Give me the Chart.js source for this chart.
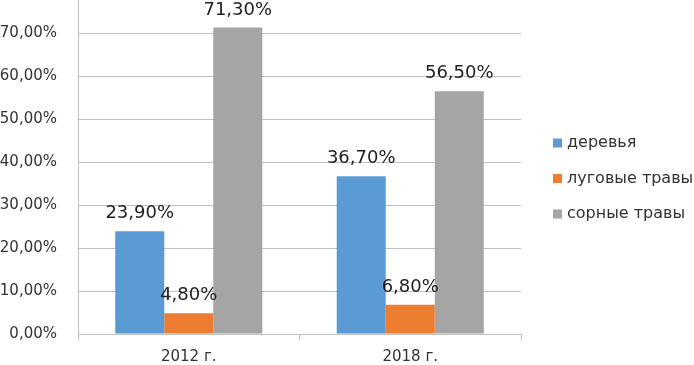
<!DOCTYPE html>
<html>
<head>
<meta charset="utf-8">
<script src="https://cdn.jsdelivr.net/npm/chart.js@4/dist/chart.umd.min.js"></script>
<style>
  html, body { margin: 0; padding: 0; background: #fff; }
  #wrap { width: 694px; height: 365px; }
</style>
</head>
<body>
<div id="wrap"><canvas id="grafica"></canvas></div>
<script>
const categorias = ["2012 г.", "2018 г."];
const series = ["деревья", "луговые травы", "сорные травы"];
const derevya = [23.9, 36.7];
const lugovye = [4.8, 6.8];
const sornye = [71.3, 56.5];
const colores = ["#5b9bd5", "#ed7d31", "#a5a5a5"];

const FONT = "'DejaVu Sans', sans-serif";
const fmt = (v, d) => v.toFixed(d).replace(".", ",") + "%";

const etiquetas = {
  id: "etiquetas",
  afterDatasetsDraw(c) {
    const ctx = c.ctx;
    ctx.save();
    ctx.font = "18px " + FONT;
    ctx.fillStyle = "#222";
    ctx.textAlign = "center";
    ctx.textBaseline = "alphabetic";
    c.data.datasets.forEach((ds, i) => {
      c.getDatasetMeta(i).data.forEach((bar, j) => {
        ctx.fillText(fmt(ds.data[j], 2), bar.x, bar.y - 13);
      });
    });
    ctx.restore();
  }
};

const leyenda = {
  id: "leyenda",
  afterDraw(c) {
    const ctx = c.ctx;
    ctx.save();
    ctx.font = "16px " + FONT;
    ctx.textBaseline = "middle";
    ctx.textAlign = "left";
    c.data.datasets.forEach((ds, i) => {
      const y = 143 + i * 35.5;
      ctx.fillStyle = ds.backgroundColor;
      ctx.fillRect(553, y - 4.5, 9, 9);
      ctx.fillStyle = "#333";
      ctx.fillText(ds.label, 567, y);
    });
    ctx.restore();
  }
};

new Chart(document.getElementById("grafica"), {
  type: "bar",
  data: {
    labels: categorias,
    datasets: [
      { label: series[0], data: derevya, backgroundColor: colores[0] },
      { label: series[1], data: lugovye, backgroundColor: colores[1] },
      { label: series[2], data: sornye, backgroundColor: colores[2] }
    ]
  },
  options: {
    responsive: true,
    maintainAspectRatio: false,
    animation: false,
    datasets: { bar: { categoryPercentage: 0.664, barPercentage: 1 } },
    layout: { padding: { top: 0, right: 173, left: 0, bottom: 0 } },
    scales: {
      x: {
        offset: true,
        grid: { offset: true, drawOnChartArea: false, drawTicks: true, tickLength: 6, color: "#bfbfbf" },
        border: { color: "#bfbfbf" },
        ticks: { font: { family: FONT, size: 15 }, color: "#333", padding: 8 },
        afterFit(s) { s.height = 31; s.paddingLeft = 0; s.paddingRight = 0; }
      },
      y: {
        min: 0,
        max: 77.7,
        grid: { color: "#bfbfbf", drawTicks: false },
        border: { color: "#bfbfbf" },
        ticks: {
          stepSize: 10,
          padding: 21,
          font: { family: FONT, size: 15 },
          color: "#333",
          callback: v => fmt(v, 2)
        },
        afterBuildTicks(s) {
          s.ticks = s.ticks.filter(t => Math.abs(t.value / 10 - Math.round(t.value / 10)) < 1e-6);
        },
        afterFit(s) { s.width = 78; s.paddingTop = 0; s.paddingBottom = 0; }
      }
    },
    plugins: {
      legend: { display: false },
      tooltip: { enabled: false }
    }
  },
  plugins: [etiquetas, leyenda]
});
</script>
</body>
</html>
